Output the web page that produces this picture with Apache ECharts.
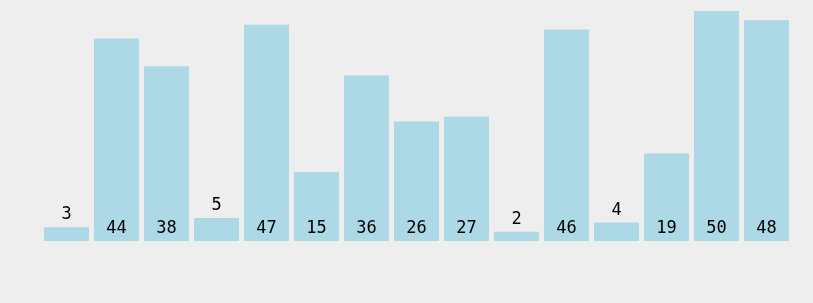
<!DOCTYPE html>
<html><head><meta charset="utf-8">
<script src="https://cdn.jsdelivr.net/npm/echarts@6/dist/echarts.min.js"></script>
<style>html,body{margin:0;padding:0;background:#eeeeee}#c{width:813px;height:303px}</style>
</head><body><div id="c"></div>
<script>
const categories = ['1','2','3','4','5','6','7','8','9','10','11','12','13','14','15'];
const values = [3,44,38,5,47,15,36,26,27,2,46,4,19,50,48];
const chart = echarts.init(document.getElementById('c'));
chart.setOption({
  backgroundColor: '#eeeeee',
  animation: false,
  grid: {left: 41.5, right: 21.5, top: 11, bottom: 62},
  xAxis: {type: 'category', data: categories, show: false},
  yAxis: {type: 'value', min: 0, max: 50, show: false},
  series: [{
    type: 'bar',
    barCategoryGap: '10%',
    itemStyle: {color: '#add8e6'},
    data: values.map(v => ({
      value: v,
      label: {show: true, position: v < 10 ? 'top' : 'insideBottom', distance: 4,
        fontFamily: 'DejaVu Sans Mono', fontSize: 17, color: '#000'}
    }))
  }]
});
</script></body></html>
